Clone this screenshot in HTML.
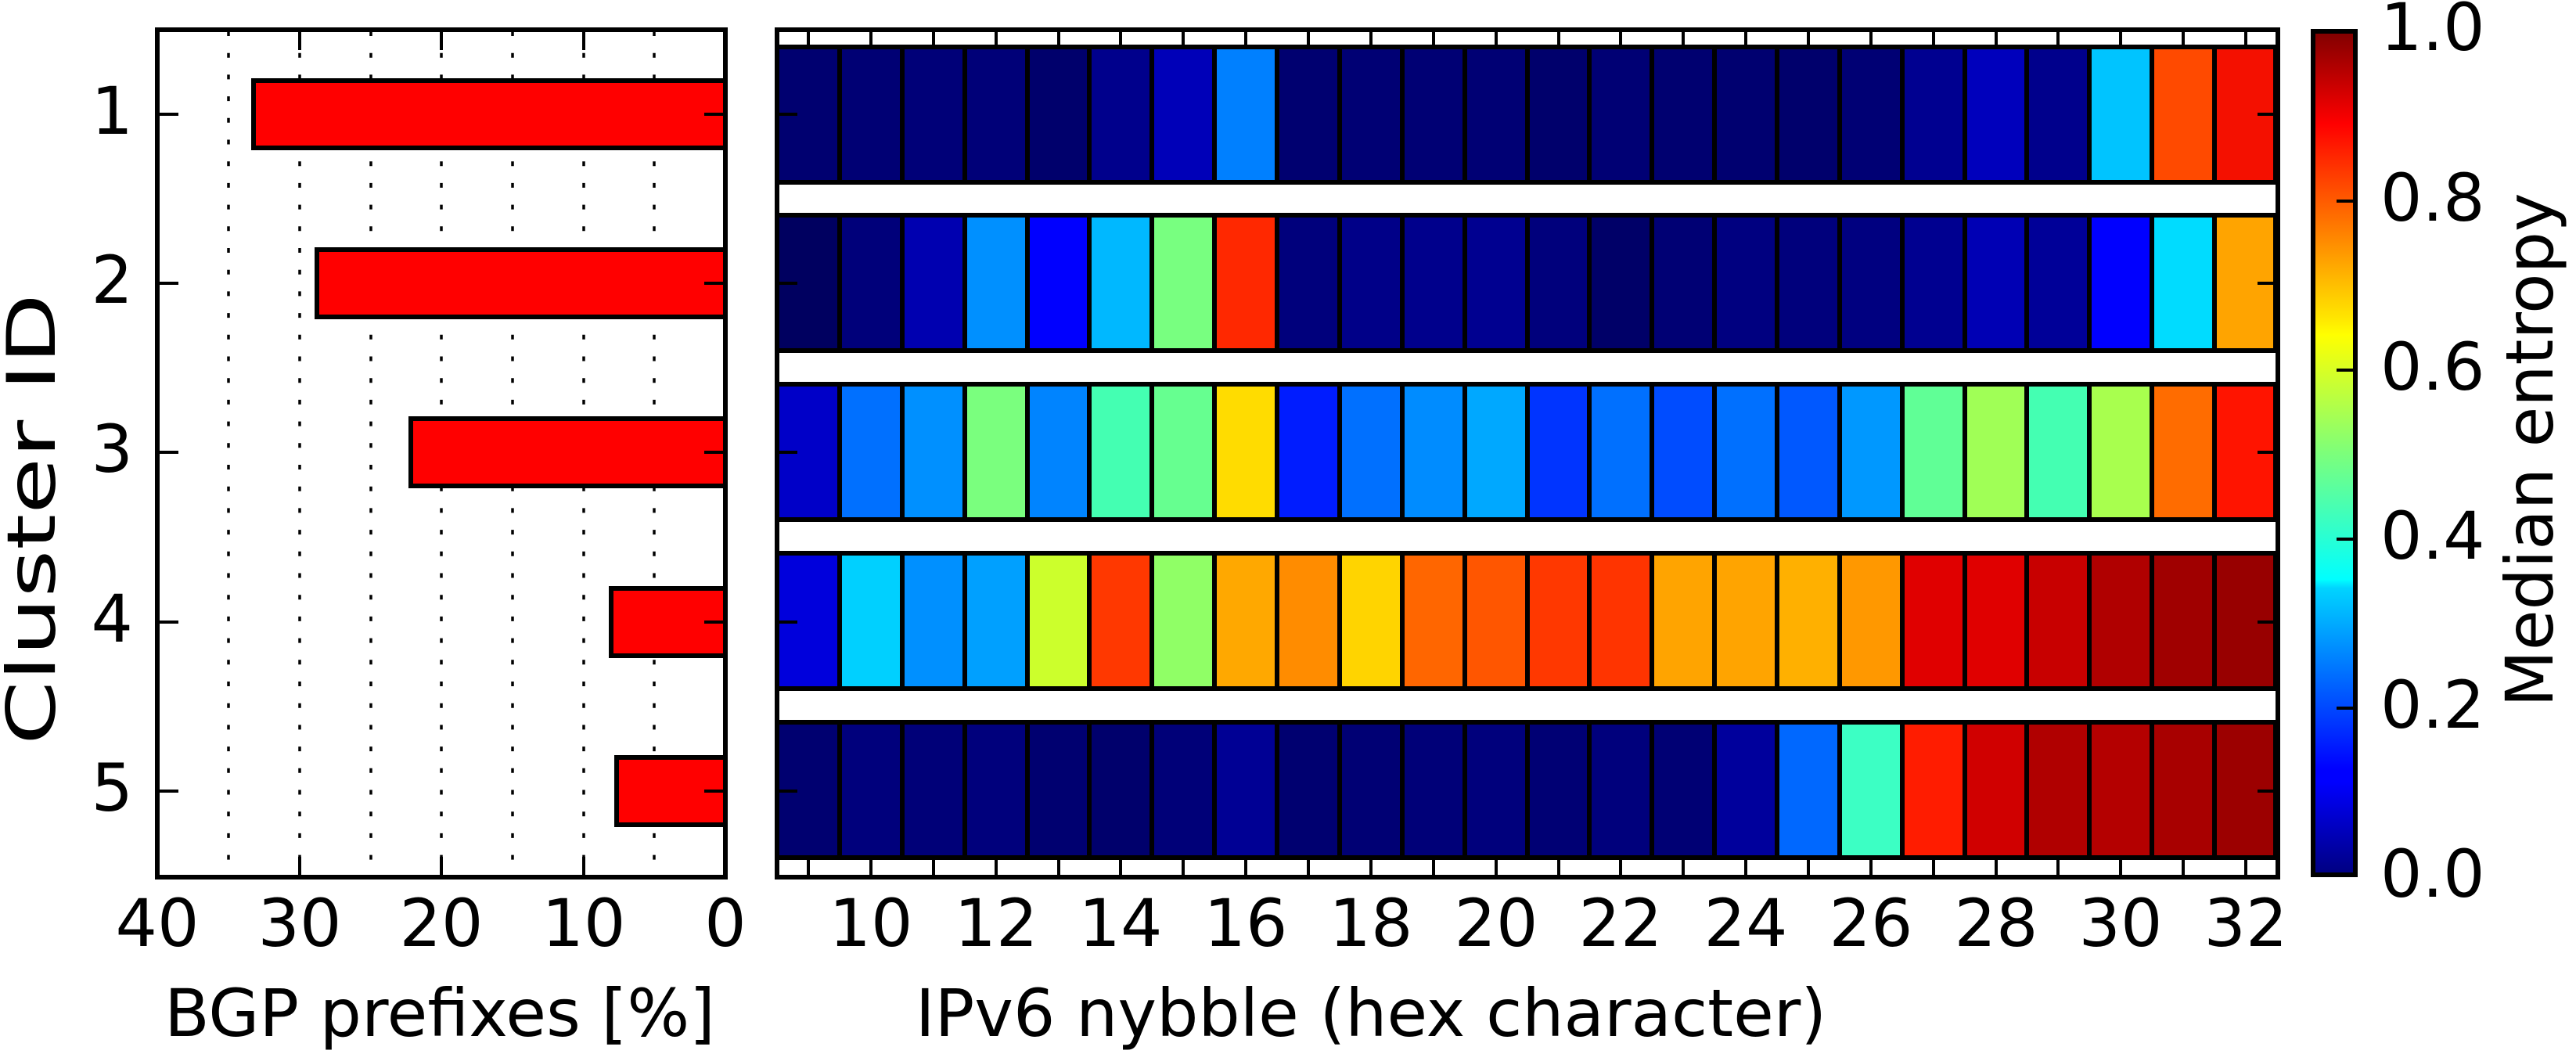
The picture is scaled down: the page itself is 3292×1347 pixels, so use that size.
<!DOCTYPE html>
<html><head><meta charset="utf-8"><style>html,body{margin:0;padding:0;background:#fff}svg{display:block}text{font-family:"DejaVu Sans","Liberation Sans",sans-serif;font-size:84px;fill:#000}</style></head>
<body>
<svg width="3292" height="1347" viewBox="0 0 3292 1347" xmlns="http://www.w3.org/2000/svg">
<defs>
<linearGradient id="jet" x1="0" y1="1" x2="0" y2="0">
<stop offset="0" stop-color="#000080"/><stop offset="0.11" stop-color="#0000ff"/><stop offset="0.125" stop-color="#0000ff"/><stop offset="0.34" stop-color="#00d4ff"/><stop offset="0.35" stop-color="#0ff"/><stop offset="0.5" stop-color="#7dff7a"/><stop offset="0.64" stop-color="#ff0"/><stop offset="0.66" stop-color="#ffe600"/><stop offset="0.89" stop-color="#ff0000"/><stop offset="1" stop-color="#800000"/>
</linearGradient>
</defs>
<g stroke="#000" stroke-width="3.5" stroke-dasharray="6 21.7">
<line x1="292" y1="40" x2="292" y2="1120"/><line x1="383" y1="40" x2="383" y2="1120"/><line x1="474" y1="40" x2="474" y2="1120"/><line x1="564" y1="40" x2="564" y2="1120"/><line x1="655" y1="40" x2="655" y2="1120"/><line x1="746" y1="40" x2="746" y2="1120"/><line x1="836" y1="40" x2="836" y2="1120"/>
</g>
<g fill="#ff0000" stroke="#000" stroke-width="6">
<rect x="324" y="103" width="603" height="86"/>
<rect x="405" y="319" width="522" height="86"/>
<rect x="525" y="535" width="402" height="86"/>
<rect x="781" y="752" width="146" height="86"/>
<rect x="788" y="968" width="139" height="86"/>
</g>
<g stroke="#000" stroke-width="4">
<line x1="383" y1="38" x2="383" y2="64"/><line x1="564" y1="38" x2="564" y2="64"/><line x1="746" y1="38" x2="746" y2="64"/>
<line x1="383" y1="1121" x2="383" y2="1095"/><line x1="564" y1="1121" x2="564" y2="1095"/><line x1="746" y1="1121" x2="746" y2="1095"/>
<line x1="201" y1="146" x2="228" y2="146"/><line x1="201" y1="362" x2="228" y2="362"/><line x1="201" y1="578" x2="228" y2="578"/><line x1="201" y1="795" x2="228" y2="795"/><line x1="201" y1="1011" x2="228" y2="1011"/>
<line x1="927" y1="146" x2="900" y2="146"/><line x1="927" y1="362" x2="900" y2="362"/><line x1="927" y1="578" x2="900" y2="578"/><line x1="927" y1="795" x2="900" y2="795"/><line x1="927" y1="1011" x2="900" y2="1011"/>
</g>
<rect x="201" y="38" width="726" height="1083" fill="none" stroke="#000" stroke-width="6"/>
<g text-anchor="end">
<text x="170" y="171">1</text><text x="170" y="387">2</text><text x="170" y="603">3</text><text x="170" y="820">4</text><text x="170" y="1036">5</text>
</g>
<g text-anchor="middle">
<text x="201" y="1209">40</text><text x="383" y="1209">30</text><text x="564" y="1209">20</text><text x="746" y="1209">10</text><text x="927" y="1209">0</text>
<text x="562" y="1324">BGP prefixes [%]</text>
</g>
<text transform="translate(70,952) rotate(-90)" style="font-size:86px" textLength="577" lengthAdjust="spacingAndGlyphs">Cluster ID</text>
<g stroke="#000" stroke-width="6">
<rect x="993" y="60" width="80" height="173" fill="#000070"/><rect x="1073" y="60" width="80" height="173" fill="#000074"/><rect x="1153" y="60" width="80" height="173" fill="#000078"/><rect x="1233" y="60" width="80" height="173" fill="#000078"/><rect x="1313" y="60" width="80" height="173" fill="#00006c"/><rect x="1392" y="60" width="80" height="173" fill="#00008c"/><rect x="1472" y="60" width="80" height="173" fill="#0000b8"/><rect x="1552" y="60" width="80" height="173" fill="#0080ff"/>
<rect x="1632" y="60" width="80" height="173" fill="#000070"/><rect x="1712" y="60" width="80" height="173" fill="#000074"/><rect x="1792" y="60" width="80" height="173" fill="#000074"/><rect x="1872" y="60" width="80" height="173" fill="#000074"/><rect x="1952" y="60" width="80" height="173" fill="#00006c"/><rect x="2031" y="60" width="80" height="173" fill="#000074"/><rect x="2111" y="60" width="80" height="173" fill="#000070"/><rect x="2191" y="60" width="80" height="173" fill="#000070"/>
<rect x="2271" y="60" width="80" height="173" fill="#00006c"/><rect x="2351" y="60" width="80" height="173" fill="#000074"/><rect x="2431" y="60" width="80" height="173" fill="#000090"/><rect x="2511" y="60" width="80" height="173" fill="#0000bc"/><rect x="2590" y="60" width="80" height="173" fill="#00008c"/><rect x="2670" y="60" width="80" height="173" fill="#00c4ff"/><rect x="2750" y="60" width="80" height="173" fill="#ff4a00"/><rect x="2830" y="60" width="78" height="173" fill="#f41000"/>
<rect x="993" y="275" width="80" height="173" fill="#000060"/><rect x="1073" y="275" width="80" height="173" fill="#00007a"/><rect x="1153" y="275" width="80" height="173" fill="#0000b0"/><rect x="1233" y="275" width="80" height="173" fill="#0090ff"/><rect x="1313" y="275" width="80" height="173" fill="#0000ff"/><rect x="1392" y="275" width="80" height="173" fill="#00b8ff"/><rect x="1472" y="275" width="80" height="173" fill="#78ff80"/><rect x="1552" y="275" width="80" height="173" fill="#ff2800"/>
<rect x="1632" y="275" width="80" height="173" fill="#00007c"/><rect x="1712" y="275" width="80" height="173" fill="#000088"/><rect x="1792" y="275" width="80" height="173" fill="#00008c"/><rect x="1872" y="275" width="80" height="173" fill="#000090"/><rect x="1952" y="275" width="80" height="173" fill="#00007c"/><rect x="2031" y="275" width="80" height="173" fill="#000068"/><rect x="2111" y="275" width="80" height="173" fill="#000074"/><rect x="2191" y="275" width="80" height="173" fill="#000080"/>
<rect x="2271" y="275" width="80" height="173" fill="#00007c"/><rect x="2351" y="275" width="80" height="173" fill="#000080"/><rect x="2431" y="275" width="80" height="173" fill="#000090"/><rect x="2511" y="275" width="80" height="173" fill="#0000b4"/><rect x="2590" y="275" width="80" height="173" fill="#000098"/><rect x="2670" y="275" width="80" height="173" fill="#0000ff"/><rect x="2750" y="275" width="80" height="173" fill="#00dcff"/><rect x="2830" y="275" width="78" height="173" fill="#ffa400"/>
<rect x="993" y="491" width="80" height="173" fill="#0000c8"/><rect x="1073" y="491" width="80" height="173" fill="#0070ff"/><rect x="1153" y="491" width="80" height="173" fill="#0090ff"/><rect x="1233" y="491" width="80" height="173" fill="#7aff7e"/><rect x="1313" y="491" width="80" height="173" fill="#0084ff"/><rect x="1392" y="491" width="80" height="173" fill="#44ffb2"/><rect x="1472" y="491" width="80" height="173" fill="#66ff90"/><rect x="1552" y="491" width="80" height="173" fill="#ffdc00"/>
<rect x="1632" y="491" width="80" height="173" fill="#001cff"/><rect x="1712" y="491" width="80" height="173" fill="#0070ff"/><rect x="1792" y="491" width="80" height="173" fill="#008cff"/><rect x="1872" y="491" width="80" height="173" fill="#00a8ff"/><rect x="1952" y="491" width="80" height="173" fill="#0034ff"/><rect x="2031" y="491" width="80" height="173" fill="#0070ff"/><rect x="2111" y="491" width="80" height="173" fill="#004cff"/><rect x="2191" y="491" width="80" height="173" fill="#0070ff"/>
<rect x="2271" y="491" width="80" height="173" fill="#0058ff"/><rect x="2351" y="491" width="80" height="173" fill="#0098ff"/><rect x="2431" y="491" width="80" height="173" fill="#60ff96"/><rect x="2511" y="491" width="80" height="173" fill="#a0ff56"/><rect x="2590" y="491" width="80" height="173" fill="#44ffb2"/><rect x="2670" y="491" width="80" height="173" fill="#a8ff4e"/><rect x="2750" y="491" width="80" height="173" fill="#ff6c00"/><rect x="2830" y="491" width="78" height="173" fill="#ff1400"/>
<rect x="993" y="707" width="80" height="173" fill="#0000dc"/><rect x="1073" y="707" width="80" height="173" fill="#00d0ff"/><rect x="1153" y="707" width="80" height="173" fill="#0090ff"/><rect x="1233" y="707" width="80" height="173" fill="#00a0ff"/><rect x="1313" y="707" width="80" height="173" fill="#ccff2c"/><rect x="1392" y="707" width="80" height="173" fill="#ff3800"/><rect x="1472" y="707" width="80" height="173" fill="#90ff66"/><rect x="1552" y="707" width="80" height="173" fill="#ffa800"/>
<rect x="1632" y="707" width="80" height="173" fill="#ff8c00"/><rect x="1712" y="707" width="80" height="173" fill="#ffd400"/><rect x="1792" y="707" width="80" height="173" fill="#ff6600"/><rect x="1872" y="707" width="80" height="173" fill="#ff5600"/><rect x="1952" y="707" width="80" height="173" fill="#ff3800"/><rect x="2031" y="707" width="80" height="173" fill="#ff3400"/><rect x="2111" y="707" width="80" height="173" fill="#ffa400"/><rect x="2191" y="707" width="80" height="173" fill="#ffa400"/>
<rect x="2271" y="707" width="80" height="173" fill="#ffb000"/><rect x="2351" y="707" width="80" height="173" fill="#ff9800"/><rect x="2431" y="707" width="80" height="173" fill="#e00000"/><rect x="2511" y="707" width="80" height="173" fill="#e00000"/><rect x="2590" y="707" width="80" height="173" fill="#c80000"/><rect x="2670" y="707" width="80" height="173" fill="#b00000"/><rect x="2750" y="707" width="80" height="173" fill="#a00000"/><rect x="2830" y="707" width="78" height="173" fill="#980000"/>
<rect x="993" y="923" width="80" height="173" fill="#000070"/><rect x="1073" y="923" width="80" height="173" fill="#00007c"/><rect x="1153" y="923" width="80" height="173" fill="#000078"/><rect x="1233" y="923" width="80" height="173" fill="#00007c"/><rect x="1313" y="923" width="80" height="173" fill="#000070"/><rect x="1392" y="923" width="80" height="173" fill="#00006c"/><rect x="1472" y="923" width="80" height="173" fill="#000078"/><rect x="1552" y="923" width="80" height="173" fill="#000094"/>
<rect x="1632" y="923" width="80" height="173" fill="#000070"/><rect x="1712" y="923" width="80" height="173" fill="#000074"/><rect x="1792" y="923" width="80" height="173" fill="#000078"/><rect x="1872" y="923" width="80" height="173" fill="#00007c"/><rect x="1952" y="923" width="80" height="173" fill="#000074"/><rect x="2031" y="923" width="80" height="173" fill="#00007c"/><rect x="2111" y="923" width="80" height="173" fill="#000074"/><rect x="2191" y="923" width="80" height="173" fill="#00009c"/>
<rect x="2271" y="923" width="80" height="173" fill="#0068ff"/><rect x="2351" y="923" width="80" height="173" fill="#3cffc4"/><rect x="2431" y="923" width="80" height="173" fill="#ff1c00"/><rect x="2511" y="923" width="80" height="173" fill="#d00000"/><rect x="2590" y="923" width="80" height="173" fill="#b00000"/><rect x="2670" y="923" width="80" height="173" fill="#b40000"/><rect x="2750" y="923" width="80" height="173" fill="#a80000"/><rect x="2830" y="923" width="78" height="173" fill="#9c0000"/>
</g>
<g stroke="#000" stroke-width="4">
<path d="M1033 38v22M1113 38v22M1193 38v22M1273 38v22M1353 38v22M1432 38v22M1512 38v22M1592 38v22M1672 38v22M1752 38v22M1832 38v22M1912 38v22M1992 38v22M2071 38v22M2151 38v22M2231 38v22M2311 38v22M2391 38v22M2471 38v22M2551 38v22M2630 38v22M2710 38v22M2790 38v22M2870 38v22"/>
<path d="M1033 1121v-24M1113 1121v-24M1193 1121v-24M1273 1121v-24M1353 1121v-24M1432 1121v-24M1512 1121v-24M1592 1121v-24M1672 1121v-24M1752 1121v-24M1832 1121v-24M1912 1121v-24M1992 1121v-24M2071 1121v-24M2151 1121v-24M2231 1121v-24M2311 1121v-24M2391 1121v-24M2471 1121v-24M2551 1121v-24M2630 1121v-24M2710 1121v-24M2790 1121v-24M2870 1121v-24"/>
<path d="M993 146h26M993 362h26M993 578h26M993 795h26M993 1011h26M2911 146h-26M2911 362h-26M2911 578h-26M2911 795h-26M2911 1011h-26"/>
</g>
<rect x="993" y="38" width="1918" height="1083" fill="none" stroke="#000" stroke-width="6"/>
<g text-anchor="middle">
<text x="1113" y="1209">10</text><text x="1273" y="1209">12</text><text x="1432" y="1209">14</text><text x="1592" y="1209">16</text><text x="1752" y="1209">18</text><text x="1912" y="1209">20</text><text x="2071" y="1209">22</text><text x="2231" y="1209">24</text><text x="2391" y="1209">26</text><text x="2551" y="1209">28</text><text x="2710" y="1209">30</text><text x="2870" y="1209">32</text>
<text x="1752" y="1324">IPv6 nybble (hex character)</text>
</g>
<rect x="2956" y="40" width="54" height="1078" fill="url(#jet)" stroke="#000" stroke-width="6"/>
<path d="M3010 257h-24M3010 473h-24M3010 689h-24M3010 905h-24" stroke="#000" stroke-width="4"/>
<g>
<text x="3042" y="64">1.0</text><text x="3042" y="282">0.8</text><text x="3042" y="498">0.6</text><text x="3042" y="714">0.4</text><text x="3042" y="930">0.2</text><text x="3042" y="1146">0.0</text>
</g>
<text text-anchor="middle" transform="translate(3262,575) rotate(-90)">Median entropy</text>
</svg>
</body></html>
